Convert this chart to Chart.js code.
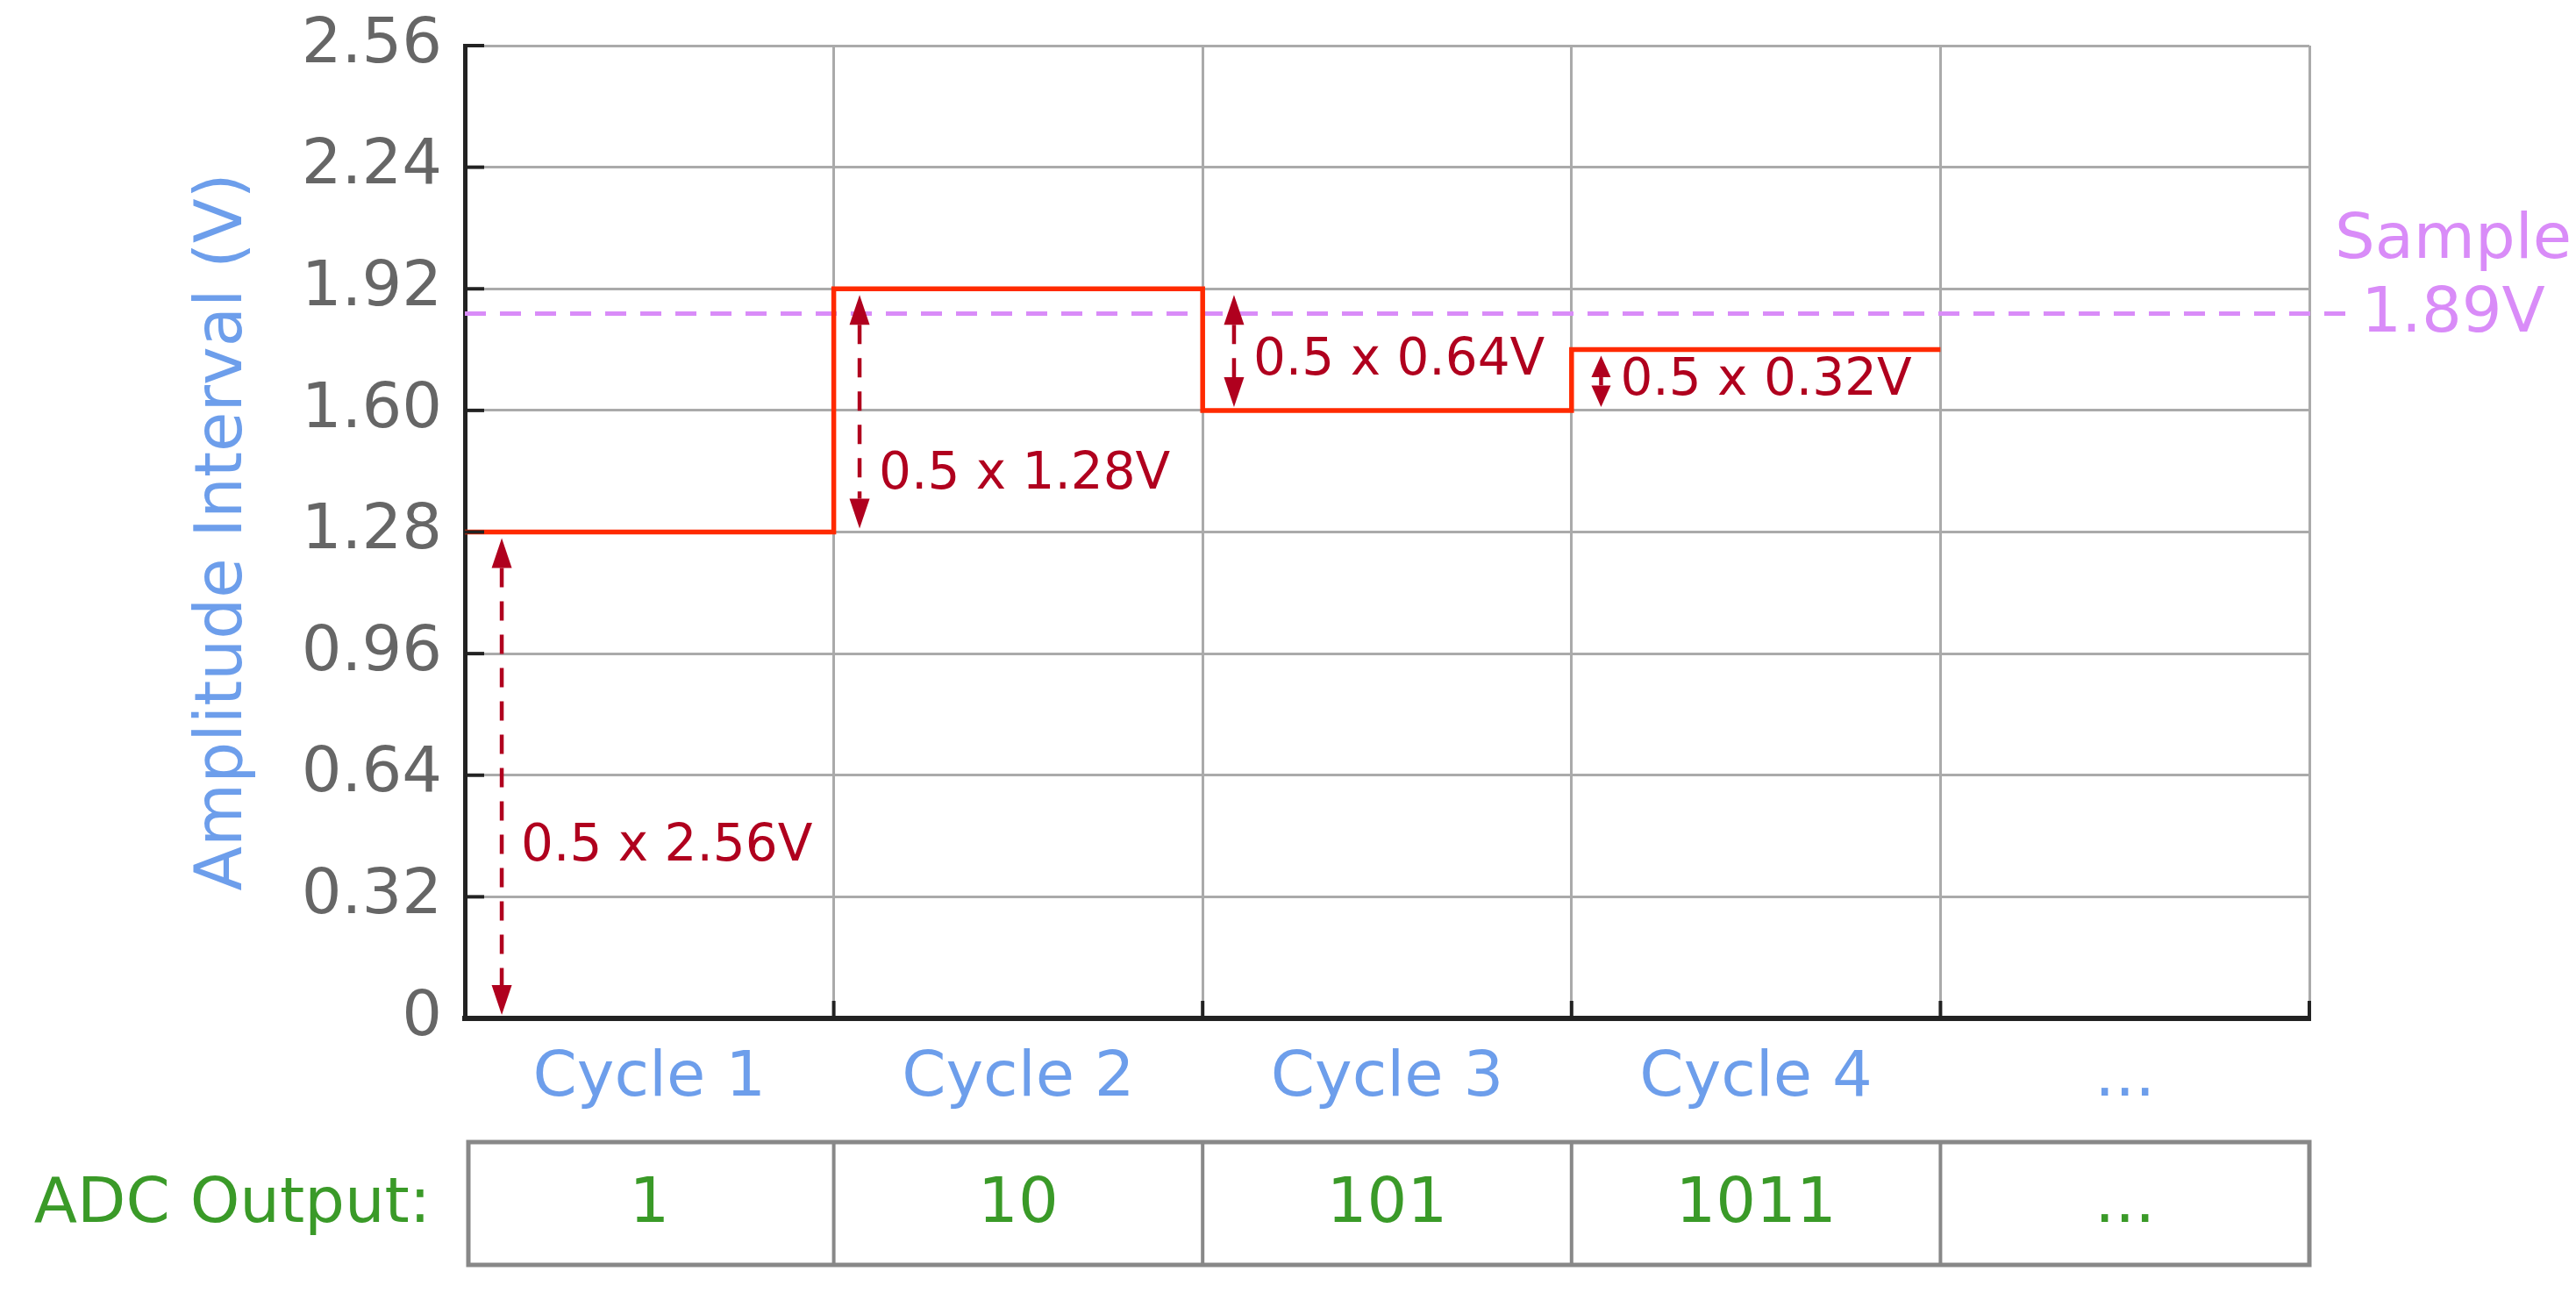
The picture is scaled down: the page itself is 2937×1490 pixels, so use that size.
<!DOCTYPE html>
<html>
<head>
<meta charset="utf-8">
<script src="https://cdn.jsdelivr.net/npm/chart.js@4.4.1/dist/chart.umd.min.js"></script>
<style>
    html, body { margin: 0; padding: 0; background: #fff; }
    #wrap { width: 2937px; height: 1490px; position: relative; }
</style>
</head>
<body>
<div id="wrap"><canvas id="adcChart"></canvas></div>
<script>
// Datos del gráfico
const cycles = ['Cycle 1', 'Cycle 2', 'Cycle 3', 'Cycle 4', '...'];
const adcOutput = ['1', '10', '101', '1011', '...'];
const stepLevels = [1.28, 1.92, 1.60, 1.76];
const yTicks = [0, 0.32, 0.64, 0.96, 1.28, 1.60, 1.92, 2.24, 2.56];
const yTickLabels = ['0', '0.32', '0.64', '0.96', '1.28', '1.60', '1.92', '2.24', '2.56'];
const sampleLevel = 1.855;
const sampleText = ['Sample', '1.89V'];
const arrowX = [0.10, 1.07, 2.085, 3.08];
const arrowFrom = [0, 1.28, 1.92, 1.60];
const arrowTo = [1.28, 1.92, 1.60, 1.76];
const arrowLabels = ['0.5 x 2.56V', '0.5 x 1.28V', '0.5 x 0.64V', '0.5 x 0.32V'];
const arrowLabelY = [0.45, 1.43, 1.73, 1.675];

const FONT = "'DejaVu Sans', Verdana, sans-serif";
const RED = '#ff2a00';
const DARK_RED = '#b0001e';
const PURPLE = '#d98cf8';
const BLUE = '#6d9eeb';
const GREEN = '#3a9a28';

Chart.defaults.font.family = FONT;

// escalón: un punto por ciclo + uno final
const stepData = stepLevels.map((v, i) => ({ x: i, y: v }));
stepData.push({ x: stepLevels.length, y: stepLevels[stepLevels.length - 1] });

// Plugin para flechas, textos y la tabla de salida
const extrasPlugin = {
    id: 'extras',
    afterDraw(chart) {
        const ctx = chart.ctx;
        const xs = chart.scales.xs;
        const y = chart.scales.y;
        const area = chart.chartArea;

        // ticks interiores
        ctx.save();
        ctx.strokeStyle = '#222';
        ctx.lineWidth = 4;
        yTicks.forEach(v => {
            const py = y.getPixelForValue(v);
            ctx.beginPath();
            ctx.moveTo(area.left, py);
            ctx.lineTo(area.left + 22, py);
            ctx.stroke();
        });
        for (let i = 1; i <= cycles.length; i++) {
            const px = xs.getPixelForValue(i);
            ctx.beginPath();
            ctx.moveTo(px, area.bottom);
            ctx.lineTo(px, area.bottom - 20);
            ctx.stroke();
        }
        ctx.restore();

        // flechas dobles
        ctx.save();
        ctx.fillStyle = DARK_RED;
        ctx.strokeStyle = DARK_RED;
        arrowX.forEach((ax, i) => {
            const px = xs.getPixelForValue(ax);
            const top = y.getPixelForValue(Math.max(arrowFrom[i], arrowTo[i])) + 7;
            const bot = y.getPixelForValue(Math.min(arrowFrom[i], arrowTo[i])) - 4;
            const span = bot - top;
            const len = Math.min(34, span * 0.42);
            const w = Math.min(23, len * 0.9);
            // cuerpo discontinuo
            ctx.lineWidth = 4.5;
            ctx.setLineDash([22, 16]);
            ctx.beginPath();
            ctx.moveTo(px, top + len);
            ctx.lineTo(px, bot - len);
            ctx.stroke();
            ctx.setLineDash([]);
            // punta arriba
            ctx.beginPath();
            ctx.moveTo(px, top);
            ctx.lineTo(px - w / 2, top + len);
            ctx.lineTo(px + w / 2, top + len);
            ctx.closePath();
            ctx.fill();
            // punta abajo
            ctx.beginPath();
            ctx.moveTo(px, bot);
            ctx.lineTo(px - w / 2, bot - len);
            ctx.lineTo(px + w / 2, bot - len);
            ctx.closePath();
            ctx.fill();

            ctx.font = '58px ' + FONT;
            ctx.textAlign = 'left';
            ctx.textBaseline = 'middle';
            ctx.fillText(arrowLabels[i], px + 22, y.getPixelForValue(arrowLabelY[i]));
        });
        ctx.restore();

        // etiqueta de la muestra
        ctx.save();
        ctx.fillStyle = PURPLE;
        ctx.font = '72px ' + FONT;
        ctx.textAlign = 'center';
        ctx.textBaseline = 'middle';
        const sy = y.getPixelForValue(sampleLevel);
        ctx.fillText(sampleText[0], area.right + 164, sy - 82);
        ctx.fillText(sampleText[1], area.right + 164, sy + 2);
        ctx.restore();

        // tabla ADC Output
        const tTop = 1302, tBot = 1442;
        ctx.save();
        ctx.strokeStyle = '#888';
        ctx.lineWidth = 5;
        const x0 = xs.getPixelForValue(0) + 4;
        const x1 = xs.getPixelForValue(cycles.length);
        ctx.strokeRect(x0, tTop, x1 - x0, tBot - tTop);
        ctx.lineWidth = 4;
        for (let i = 1; i < cycles.length; i++) {
            const px = xs.getPixelForValue(i);
            ctx.beginPath();
            ctx.moveTo(px, tTop);
            ctx.lineTo(px, tBot);
            ctx.stroke();
        }
        ctx.fillStyle = GREEN;
        ctx.font = '72px ' + FONT;
        ctx.textBaseline = 'middle';
        ctx.textAlign = 'center';
        adcOutput.forEach((t, i) => {
            ctx.fillText(t, xs.getPixelForValue(i + 0.5), (tTop + tBot) / 2 + 2);
        });
        ctx.textAlign = 'right';
        ctx.fillText('ADC Output:', 491, (tTop + tBot) / 2 + 2);
        ctx.restore();
    }
};

const ctx = document.getElementById('adcChart').getContext('2d');
const adcChart = new Chart(ctx, {
    type: 'line',
    data: {
        labels: cycles,
        datasets: [{
            label: 'Sample',
            data: [{ x: 0, y: sampleLevel }, { x: cycles.length + 0.1, y: sampleLevel }],
            xAxisID: 'xs',
            borderColor: PURPLE,
            borderWidth: 5,
            borderDash: [24, 16],
            pointRadius: 0,
            fill: false,
            clip: false,
            order: 2
        }, {
            label: 'DAC',
            data: stepData,
            xAxisID: 'xs',
            stepped: 'before',
            borderColor: RED,
            borderWidth: 5.5,
            pointRadius: 0,
            fill: false,
            order: 1
        }]
    },
    options: {
        responsive: true,
        maintainAspectRatio: false,
        animation: false,
        layout: {
            padding: { top: 52, right: 304, left: 0, bottom: 0 }
        },
        plugins: {
            legend: { display: false },
            tooltip: { enabled: false }
        },
        scales: {
            x: {
                type: 'category',
                offset: true,
                grid: {
                    offset: true,
                    color: '#aaa',
                    lineWidth: 3,
                    drawTicks: false
                },
                border: { color: '#222', width: 6 },
                ticks: {
                    color: BLUE,
                    font: { size: 72 },
                    padding: 26,
                    maxRotation: 0
                },
                afterFit: scale => {
                    scale.height = 329;
                    scale.paddingLeft = 0;
                    scale.paddingRight = 0;
                }
            },
            xs: {
                type: 'linear',
                display: false,
                min: 0,
                max: cycles.length
            },
            y: {
                min: 0,
                max: 2.56,
                afterBuildTicks: scale => {
                    scale.ticks = yTicks.map(v => ({ value: v }));
                },
                grid: {
                    color: '#aaa',
                    lineWidth: 3,
                    drawTicks: false
                },
                border: { color: '#222', width: 5 },
                ticks: {
                    color: '#666',
                    font: { size: 72 },
                    padding: 26,
                    callback: (v, i) => yTickLabels[i]
                },
                title: {
                    display: true,
                    text: 'Amplitude Interval (V)',
                    color: BLUE,
                    font: { size: 74 },
                    padding: { top: 211, bottom: 0 }
                },
                afterFit: scale => {
                    scale.width = 530;
                    scale.paddingTop = 0;
                    scale.paddingBottom = 0;
                }
            }
        }
    },
    plugins: [extrasPlugin]
});
</script>
</body>
</html>
